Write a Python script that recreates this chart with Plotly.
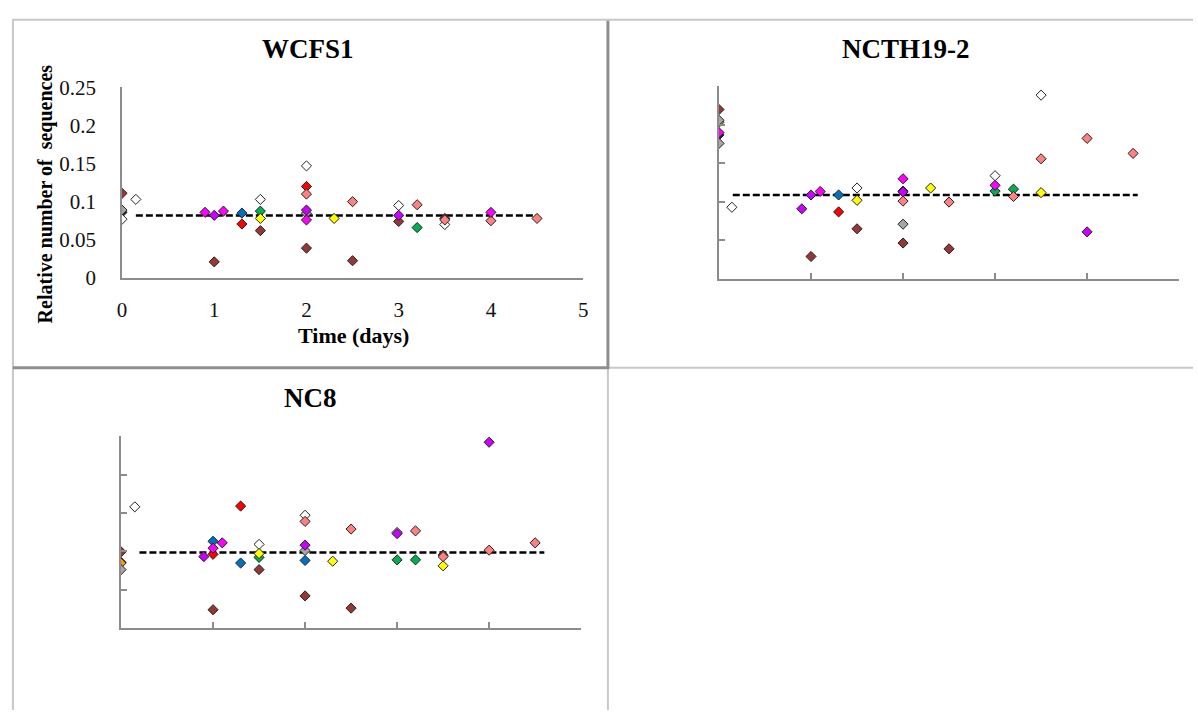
import plotly.graph_objects as go

# ---------------- data ----------------
DAYS = [0, 1, 2, 3, 4, 5]
VALUE_TICKS = [0, 0.05, 0.1, 0.15, 0.2, 0.25]

# colour of each strain/series
STRAIN_COLORS = {
    "brown": "#953735",
    "navy": "#1f1f3a",
    "orange": "#ff9900",
    "gray": "#a6a6a6",
    "white": "#ffffff",
    "blue": "#0070c0",
    "red": "#ff0000",
    "green": "#00b050",
    "yellow": "#ffff00",
    "salmon": "#ff8080",
    "violet": "#cc00ff",
    "magenta": "#ff00ff",
}

# WCFS1
wcfs1_time = [0, 1, 1.5, 2, 2.5, 3, 3.5,
              0,
              0, 2,
              0, 0.15, 1.5, 2, 3, 3.5,
              1.3,
              1.3, 2,
              1.5, 3.2,
              1.5, 2.3,
              2, 2.5, 3.2, 3.5, 4, 4.5,
              1, 2, 3,
              0.9, 1.1, 2, 4]
wcfs1_value = [0.111, 0.021, 0.062, 0.039, 0.0225, 0.074, 0.078,
               0.086,
               0.089, 0.085,
               0.077, 0.103, 0.103, 0.147, 0.095, 0.070,
               0.085,
               0.0707, 0.120,
               0.0876, 0.066,
               0.078, 0.078,
               0.110, 0.100, 0.096, 0.076, 0.075, 0.078,
               0.082, 0.089, 0.082,
               0.086, 0.0876, 0.076, 0.086]
wcfs1_strain = ["brown"] * 7 + ["navy"] + ["gray"] * 2 + ["white"] * 6 + ["blue"] + \
               ["red"] * 2 + ["green"] * 2 + ["yellow"] * 2 + ["salmon"] * 6 + \
               ["violet"] * 3 + ["magenta"] * 4
wcfs1_mean = [0.082, 0.082]
wcfs1_mean_span = [0.15, 4.5]

# NCTH19-2
ncth_time = [0, 1, 1.5, 2, 2.5,
             0, 2,
             0,
             0.0, 0, 2,
             0.14, 1.5, 3, 3.5,
             1.3,
             1.3,
             3, 3.2,
             1.5, 2.3, 3.5,
             2, 2.5, 3.2, 3.5, 4, 4.5,
             0.9, 1, 2, 4,
             0, 1.1, 2, 3]
ncth_value = [0.220, 0.029, 0.065, 0.0465, 0.039,
              0.187, 0.114,
              0.2035,
              0.206, 0.176, 0.071,
              0.093, 0.118, 0.134, 0.2387,
              0.109,
              0.087,
              0.114, 0.1165,
              0.102, 0.118, 0.112,
              0.101, 0.0997, 0.107, 0.156, 0.1825, 0.163,
              0.091, 0.109, 0.113, 0.061,
              0.190, 0.1135, 0.130, 0.1215]
ncth_strain = ["brown"] * 5 + ["navy"] * 2 + ["orange"] + ["gray"] * 3 + ["white"] * 4 + \
              ["blue"] + ["red"] + ["green"] * 2 + ["yellow"] * 3 + ["salmon"] * 6 + \
              ["violet"] * 4 + ["magenta"] * 4
ncth_mean = [0.109, 0.109]
ncth_mean_span = [0.15, 4.55]

# NC8
nc8_time = [0, 1, 1.5, 2, 2.5, 3.5,
            0,
            0,
            0, 2,
            0.15, 1.5, 2, 3,
            1, 1.3, 2,
            1, 1.3,
            1.5, 3, 3.2,
            1.5, 2.3, 3.5,
            2, 2.5, 3.2, 3.5, 4, 4.5,
            0.9, 2, 3, 4,
            1, 1.1]
nc8_value = [0.0993, 0.0236, 0.076, 0.0417, 0.0257, 0.095,
             0.0855,
             0.0846,
             0.076, 0.101,
             0.158, 0.109, 0.147, 0.1246,
             0.113, 0.0846, 0.088,
             0.096, 0.159,
             0.092, 0.0888, 0.0888,
             0.097, 0.087, 0.081,
             0.139, 0.129, 0.1266, 0.093, 0.1014, 0.111,
             0.093, 0.108, 0.123, 0.2424,
             0.104, 0.111]
nc8_strain = ["brown"] * 6 + ["navy"] + ["orange"] + ["gray"] * 2 + ["white"] * 4 + \
             ["blue"] * 3 + ["red"] * 2 + ["green"] * 3 + ["yellow"] * 3 + ["salmon"] * 6 + \
             ["violet"] * 4 + ["magenta"] * 2
nc8_mean = [0.0985, 0.0985]
nc8_mean_span = [0.2, 4.6]

# ---------------- figure ----------------
W, H = 1198, 722
FONT = "Liberation Serif"


def px_x(p):
    return p / W


def px_y(p):
    return 1 - p / H


fig = go.Figure()

panels = [
    (wcfs1_time, wcfs1_value, wcfs1_strain, wcfs1_mean_span, wcfs1_mean, "x", "y"),
    (ncth_time, ncth_value, ncth_strain, ncth_mean_span, ncth_mean, "x2", "y2"),
    (nc8_time, nc8_value, nc8_strain, nc8_mean_span, nc8_mean, "x3", "y3"),
]

for t, v, s, span, mean, xa, ya in panels:
    fig.add_trace(go.Scatter(x=span, y=mean, mode="lines", xaxis=xa, yaxis=ya,
                             line=dict(color="black", width=2.5, dash="7px,3px"),
                             showlegend=False, hoverinfo="skip"))
    for strain, col in STRAIN_COLORS.items():
        xs = [a for a, k in zip(t, s) if k == strain]
        ys = [b for b, k in zip(v, s) if k == strain]
        if not xs:
            continue
        fig.add_trace(go.Scatter(x=xs, y=ys, mode="markers", xaxis=xa, yaxis=ya,
                                 name=strain, showlegend=False,
                                 marker=dict(symbol="diamond", size=7.8, color=col,
                                             line=dict(color="#222222", width=1))))

AX_COLOR = "#8c8c8c"
axis_common = dict(showgrid=False, zeroline=False, showline=True, linecolor=AX_COLOR,
                   linewidth=1.5, mirror=False, fixedrange=True)

# panel geometry in pixels: (left, right, bottom, top)
geo = [(118, 583, 275, 78), (720, 1184, 276, 77), (117, 581, 637, 439)]

layout_axes = {}
for i, (l, r, b, tp) in enumerate(geo):
    sfx = "" if i == 0 else str(i + 1)
    xa = dict(axis_common, domain=[px_x(l), px_x(r)], range=[0, 5], tickvals=DAYS,
              anchor="y" + sfx)
    ya = dict(axis_common, domain=[px_y(b), px_y(tp)], range=[0, 0.25], tickvals=VALUE_TICKS,
              anchor="x" + sfx)
    if i == 0:
        xa.update(ticks="", showticklabels=True, ticklabelstandoff=12,
                  tickfont=dict(family=FONT, size=21, color="#111111"))
        ya.update(ticks="", showticklabels=True, ticklabelstandoff=20,
                  tickfont=dict(family=FONT, size=21, color="#111111"))
    else:
        xa.update(ticks="inside", ticklen=6, tickcolor=AX_COLOR, tickwidth=1.5,
                  showticklabels=False)
        ya.update(ticks="inside", ticklen=6, tickcolor=AX_COLOR, tickwidth=1.5,
                  showticklabels=False)
    layout_axes["xaxis" + sfx] = xa
    layout_axes["yaxis" + sfx] = ya

fig.update_layout(**layout_axes)

# table-like borders
LIGHT = "#c8c8c8"
DARK = "#8e8e8e"


def hline(y, x0, x1, color, width):
    return dict(type="line", xref="paper", yref="paper", x0=px_x(x0), x1=px_x(x1),
                y0=px_y(y), y1=px_y(y), line=dict(color=color, width=width))


def vline(x, y0, y1, color, width):
    return dict(type="line", xref="paper", yref="paper", x0=px_x(x), x1=px_x(x),
                y0=px_y(y0), y1=px_y(y1), line=dict(color=color, width=width))


shapes = [
    hline(8, 7, W, LIGHT, 2),
    vline(8, 8, H, LIGHT, 2),
    vline(608, 368, H, LIGHT, 2),
    hline(368, 608, W, LIGHT, 2),
    vline(608, 9, 369, DARK, 3),
    hline(368, 8, 609, DARK, 3),
]

annotations = [
    dict(text="<b>WCFS1</b>", x=px_x(306), y=px_y(38), xref="paper", yref="paper",
         showarrow=False, font=dict(family=FONT, size=27, color="black"),
         xanchor="center", yanchor="middle"),
    dict(text="<b>NCTH19-2</b>", x=px_x(909), y=px_y(38), xref="paper", yref="paper",
         showarrow=False, font=dict(family=FONT, size=27, color="black"),
         xanchor="center", yanchor="middle"),
    dict(text="<b>NC8</b>", x=px_x(308), y=px_y(399), xref="paper", yref="paper",
         showarrow=False, font=dict(family=FONT, size=27, color="black"),
         xanchor="center", yanchor="middle"),
    dict(text="<b>Relative number of  sequences</b>", x=px_x(41), y=px_y(188),
         xref="paper", yref="paper", showarrow=False, textangle=-90,
         font=dict(family=FONT, size=20, color="black"), xanchor="center", yanchor="middle"),
    dict(text="<b>Time (days)</b>", x=px_x(351), y=px_y(335), xref="paper", yref="paper",
         showarrow=False, font=dict(family=FONT, size=22, color="black"),
         xanchor="center", yanchor="middle"),
]

fig.update_layout(width=W, height=H, autosize=False,
                  margin=dict(l=0, r=0, t=0, b=0, pad=0),
                  paper_bgcolor="white", plot_bgcolor="rgba(0,0,0,0)",
                  shapes=shapes, annotations=annotations, showlegend=False)

fig.write_html("out.html", config={"displayModeBar": False},
               post_script="document.body.style.margin='0';document.body.style.overflow='hidden';")
